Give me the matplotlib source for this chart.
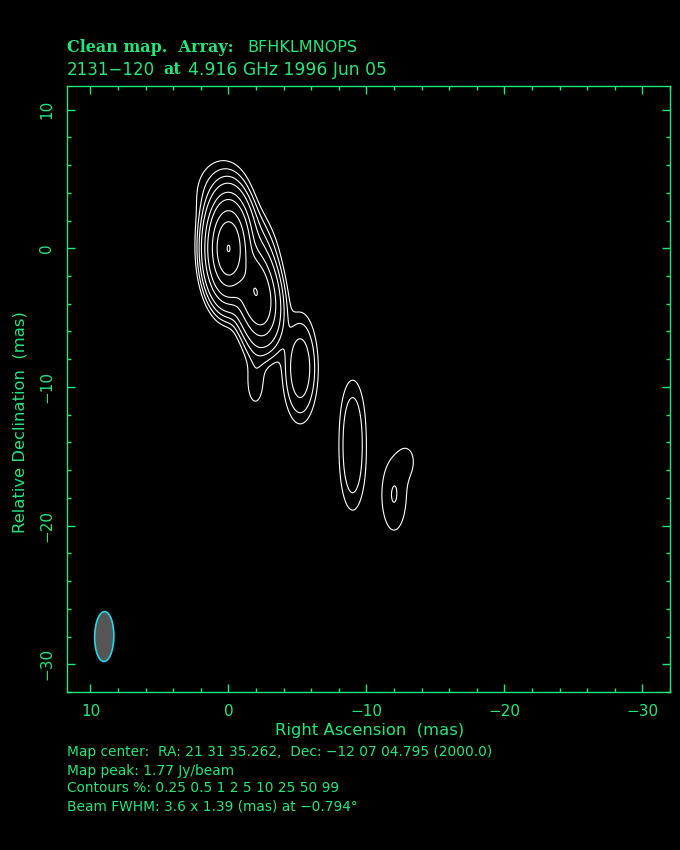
import numpy as np
import matplotlib
matplotlib.use("Agg")
import matplotlib.pyplot as plt
from matplotlib.patches import Ellipse
from matplotlib.ticker import MultipleLocator

# map model: elliptical gaussian components (already convolved with the beam)
# position in mas, amplitude in % of map peak, sigma in mas, PA in deg
comp_ra = [0.0, 0.6, -2.0, -2.2, -2.1, -1.95, -5.2, -9.0, -9.0, -12.0, -13.0]
comp_dec = [0.0, 4.0, -3.2, 0.8, -6.5, -9.7, -8.65, -12.6, -15.8, -17.8, -15.3]
comp_amp = [99.5, 0.6, 25.0, 0.7, 0.6, 0.42, 1.7, 0.64, 0.64, 0.515, 0.27]
comp_sx = [0.70, 1.2, 0.75, 0.7, 0.6, 0.5, 0.67, 0.6, 0.6, 0.73, 0.55]
comp_sy = [1.62, 1.6, 1.70, 1.6, 1.2, 1.3, 2.05, 2.2, 2.2, 2.1, 1.0]
comp_pa = [0, 0, 10, 20, 0, 0, 0, 0, 0, 0, 0]

levels = [0.25, 0.5, 1, 2, 5, 10, 25, 50, 99]
xticks = [10, 0, -10, -20, -30]
yticks = [10, 0, -10, -20, -30]

beam_maj, beam_min, beam_pa = 3.6, 1.39, -0.794
peak = 1.77

GREEN = "#1de87a"

ra = np.arange(-32.5, 12.5, 0.04)
dec = np.arange(-32.5, 12.5, 0.04)
RA, DEC = np.meshgrid(ra, dec)
img = np.zeros_like(RA)
for x0, y0, a, sx, sy, pa in zip(comp_ra, comp_dec, comp_amp, comp_sx, comp_sy, comp_pa):
    p = np.radians(pa)
    dx, dy = RA - x0, DEC - y0
    v = dx * np.sin(p) + dy * np.cos(p)
    u = dx * np.cos(p) - dy * np.sin(p)
    img += a * np.exp(-0.5 * ((u / sx) ** 2 + (v / sy) ** 2))
img = img / img.max() * 100

fig = plt.figure(figsize=(6.8, 8.5), dpi=100, facecolor="black")
ax = fig.add_axes([67 / 680, 1 - 692 / 850, 603 / 680, 606 / 850], facecolor="black")

ax.contour(RA, DEC, img, levels=levels, colors="white", linewidths=0.8)

xl = (11.7, -32.0)
yl = (-32.0, 11.7)
ax.set_xlim(xl)
ax.set_ylim(yl)

ax.add_patch(Ellipse((xl[0] - 2.7, yl[0] + 4.0), width=beam_min, height=beam_maj,
                     angle=-beam_pa, facecolor="#555555", edgecolor="#22d8e8", lw=1.2))

for s in ax.spines.values():
    s.set_color(GREEN)
    s.set_linewidth(1.0)
ax.set_xticks(xticks)
ax.set_yticks(yticks)
ax.xaxis.set_minor_locator(MultipleLocator(2))
ax.yaxis.set_minor_locator(MultipleLocator(2))
ax.tick_params(which="both", direction="in", colors=GREEN, top=True, right=True,
               labelsize=11, width=1.0)
ax.tick_params(which="major", length=6)
ax.tick_params(which="minor", length=3)
ax.tick_params(axis="x", pad=9)
ax.tick_params(axis="y", pad=9)
ax.set_xticklabels([f"{t:d}".replace("-", "\u2212") for t in xticks])
ax.set_yticklabels([f"{t:d}".replace("-", "\u2212") for t in yticks], rotation=90, va="center")

def ftext(x, y, s, **kw):
    fig.text(x / 680, 1 - y / 850, s, color=GREEN, va="center", **kw)

ftext(67, 47, "Clean map.  Array:", family="DejaVu Serif", fontweight="bold", fontsize=11.5)
ftext(247, 47, "BFHKLMNOPS", fontsize=11.5)
ftext(67, 70, "2131\u2212120", fontsize=12)
ftext(163, 70, "at", family="DejaVu Serif", fontweight="bold", fontsize=11.5)
ftext(188, 70, "4.916 GHz 1996 Jun 05", fontsize=12.3)

ftext(370, 730, "Right Ascension  (mas)", fontsize=11.8, ha="center")
ftext(20, 422, "Relative Declination  (mas)", fontsize=11.8, ha="center", rotation=90)

ftext(67, 752, "Map center:  RA: 21 31 35.262,  Dec: \u221212 07 04.795 (2000.0)", fontsize=9.9)
ftext(67, 771, f"Map peak: {peak} Jy/beam", fontsize=9.9)
ftext(67, 788, "Contours %: " + " ".join(f"{l:g}" for l in levels), fontsize=9.9)
ftext(67, 806, f"Beam FWHM: {beam_maj} x {beam_min} (mas) at \u2212{abs(beam_pa)}\u00b0", fontsize=9.9)

fig.savefig("out.png", dpi=100, facecolor="black")
